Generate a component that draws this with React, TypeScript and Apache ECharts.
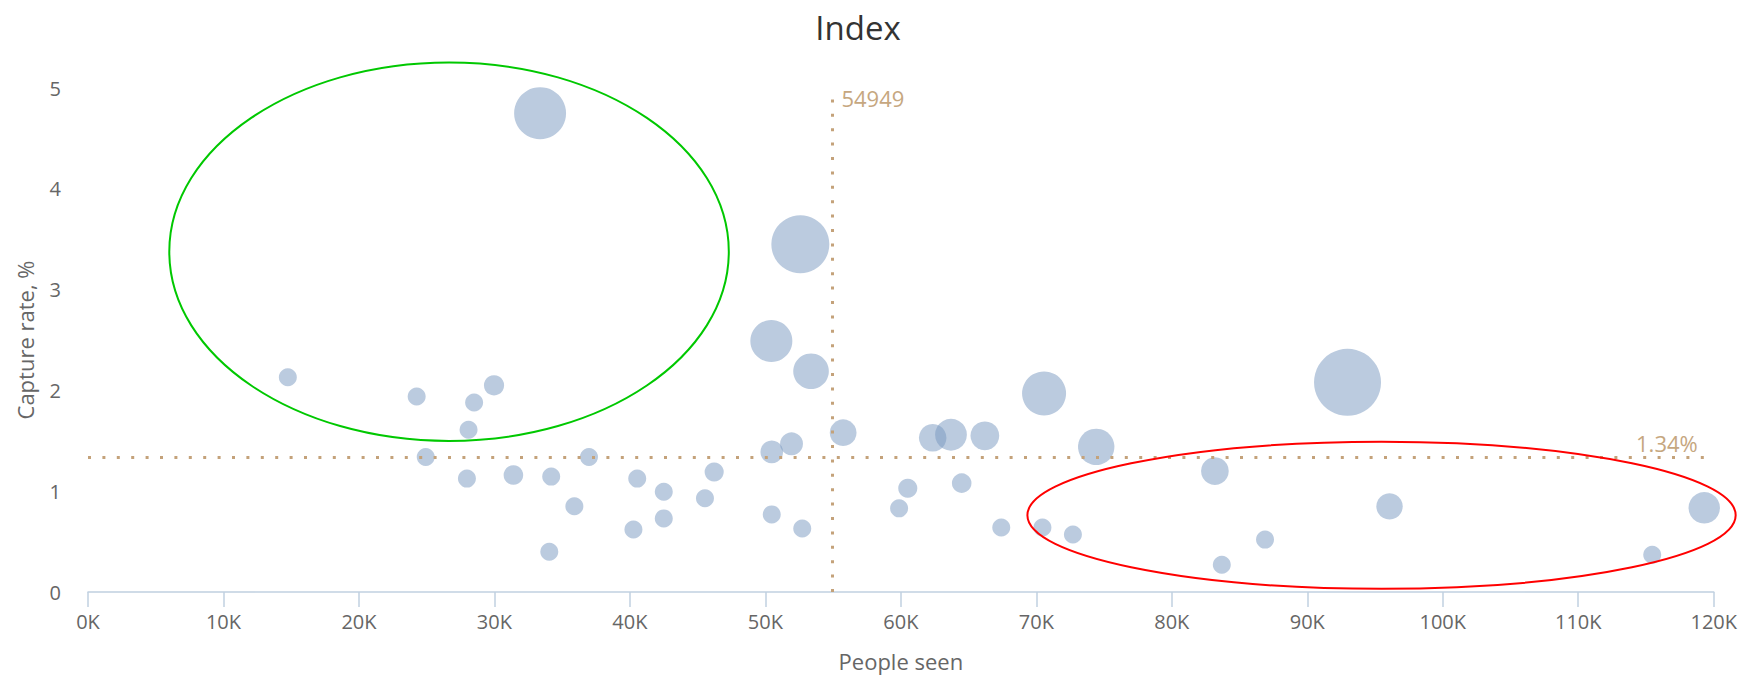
import React, { useEffect, useRef } from "react";
import * as echarts from "echarts";

// ---- data ----
const peopleSeen = [
  14750, 24260, 24930, 27970, 28090, 28500, 29970, 31400, 33370, 34050,
  34190, 35900, 36980, 40260, 40540, 42500, 42500, 45540, 46220, 50440,
  50470, 50470, 51930, 52580, 52720, 53370, 55740, 59870, 60510, 62350,
  63700, 64490, 66200, 67410, 70450, 70570, 72700, 74420, 83180, 83690,
  86880, 92970, 96070, 115460, 119300,
];
const captureRate = [
  2.13, 1.94, 1.34, 1.125, 1.61, 1.88, 2.05, 1.16, 4.75, 0.4,
  1.145, 0.85, 1.34, 0.62, 1.125, 0.73, 0.995, 0.93, 1.19, 2.49,
  1.39, 0.77, 1.47, 3.45, 0.63, 2.19, 1.58, 0.83, 1.03, 1.53,
  1.56, 1.08, 1.55, 0.64, 0.64, 1.97, 0.57, 1.44, 1.2, 0.27,
  0.52, 2.08, 0.85, 0.37, 0.835,
];
const bubbleValue = [
  0, 0, 0, 0, 0, 0, 0.2, 0.1, 48, 0,
  0, 0, 0, 0, 0, 0, 0, 0, 0.05, 24,
  0.9, 0, 1.0, 66.6, 0, 12.9, 3.2, 0, 0.05, 3.8,
  7.9, 0.1, 4.8, 0, 0, 28.2, 0, 14.1, 3.9, 0,
  0, 100, 2.9, 0, 7.5,
];
const xTickMax = 120000;
const xTickStep = 10000;
const yTickMax = 5;
const yTickStep = 1;
const plotLineX = 54949;
const plotLineY = 1.34;
const plotLineXLabel = "54949";
const plotLineYLabel = "1.34%";

// annotation ellipses, in data units
const greenEllipse = { cx: 26650, cy: 3.376, rx: 20650, ry: 1.877 };
const redEllipse = { cx: 95480, cy: 0.761, rx: 26140, ry: 0.729 };

const FONT = "'Open Sans', 'Noto Sans', sans-serif";
const MIN_SIZE = 18;
const MAX_SIZE = 67;
const zMin = Math.min(...bubbleValue);
const zMax = Math.max(...bubbleValue);

export default function App() {
  const ref = useRef<HTMLDivElement>(null);

  useEffect(() => {
    if (!ref.current) return;
    const chart = echarts.init(ref.current, null, { renderer: "svg" });
    const data = peopleSeen.map((x, i) => [x, captureRate[i], bubbleValue[i]]);
    const plotColor = "#C4A27A";

    chart.setOption({
      animation: false,
      backgroundColor: "#ffffff",
      grid: { left: 88, right: 20, top: 88, bottom: 78, containLabel: false },
      xAxis: {
        type: "value",
        min: 0,
        max: xTickMax,
        interval: xTickStep,
        name: "People seen",
        nameLocation: "middle",
        nameGap: 58,
        nameTextStyle: { fontFamily: FONT, fontSize: 22, color: "#666" },
        axisLine: { show: true, lineStyle: { color: "#C0D0E0", width: 1.5 } },
        axisTick: { show: true, length: 15, lineStyle: { color: "#C0D0E0", width: 1.5 } },
        splitLine: { show: false },
        axisLabel: {
          fontFamily: FONT,
          fontSize: 20,
          color: "#666",
          margin: 19,
          showMinLabel: true,
          showMaxLabel: true,
          formatter: (v: number) => `${v / 1000}K`,
        },
      },
      yAxis: {
        type: "value",
        min: 0,
        max: yTickMax,
        interval: yTickStep,
        name: "Capture rate, %",
        nameLocation: "middle",
        nameGap: 52,
        nameTextStyle: { fontFamily: FONT, fontSize: 22, color: "#666" },
        axisLine: { show: false },
        axisTick: { show: false },
        splitLine: { show: false },
        axisLabel: { fontFamily: FONT, fontSize: 20, color: "#666", margin: 27 },
      },
      series: [
        {
          type: "scatter",
          data,
          symbol: "circle",
          symbolSize: (val: number[]) =>
            MIN_SIZE + (MAX_SIZE - MIN_SIZE) * Math.sqrt((val[2] - zMin) / (zMax - zMin)),
          itemStyle: { color: "#7798BF", opacity: 0.5 },
          emphasis: { disabled: true },
          silent: true,
          markLine: {
            silent: true,
            symbol: "none",
            label: { show: false },
            lineStyle: { color: plotColor, width: 3, type: [3, 11.4], opacity: 1 },
            data: [{ xAxis: plotLineX }, { yAxis: plotLineY }],
          },
        },
      ],
    });

    const toPx = (x: number, y: number) =>
      chart.convertToPixel({ gridIndex: 0 }, [x, y]) as number[];

    const ellipse = (e: typeof greenEllipse, color: string) => {
      const c = toPx(e.cx, e.cy);
      const r = toPx(e.cx + e.rx, e.cy + e.ry);
      return {
        type: "ellipse",
        silent: true,
        z: 100,
        shape: { cx: c[0], cy: c[1], rx: Math.abs(r[0] - c[0]), ry: Math.abs(c[1] - r[1]) },
        style: { fill: "none", stroke: color, lineWidth: 2 },
      };
    };

    const vTop = toPx(plotLineX, yTickMax);
    const hEnd = toPx(xTickMax, plotLineY);

    chart.setOption({
      graphic: [
        {
          type: "text",
          x: 858,
          y: 27,
          silent: true,
          style: {
            text: "Index",
            fontFamily: FONT,
            fontSize: 33,
            fill: "#333",
            textAlign: "center",
            textVerticalAlign: "middle",
          },
        },
        {
          type: "text",
          x: vTop[0] + 9,
          y: vTop[1] + 10,
          silent: true,
          style: {
            text: plotLineXLabel,
            fontFamily: FONT,
            fontSize: 22,
            fill: "#C6A77F",
            textAlign: "left",
            textVerticalAlign: "middle",
          },
        },
        {
          type: "text",
          x: hEnd[0] - 16,
          y: hEnd[1] - 14,
          silent: true,
          style: {
            text: plotLineYLabel,
            fontFamily: FONT,
            fontSize: 22,
            fill: "#C6A77F",
            textAlign: "right",
            textVerticalAlign: "middle",
          },
        },
        ellipse(greenEllipse, "#00C800"),
        ellipse(redEllipse, "#FF0000"),
      ],
    });

    return () => chart.dispose();
  }, []);

  return (
    <div
      ref={ref}
      style={{ position: "fixed", left: 0, top: 0, width: 1740, height: 677, background: "#fff" }}
    />
  );
}
